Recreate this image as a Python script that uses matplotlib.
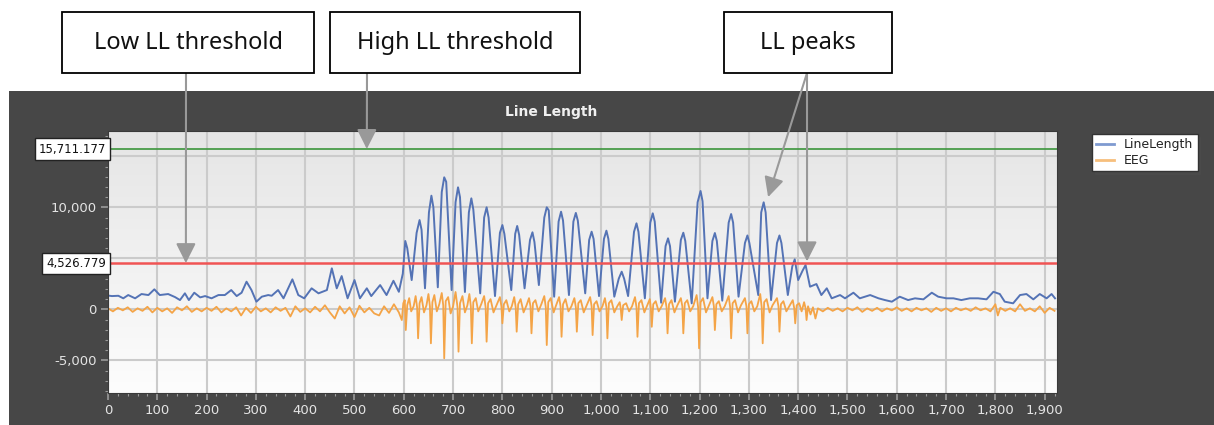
import numpy as np
import matplotlib
matplotlib.use("Agg")
import matplotlib.pyplot as plt
from matplotlib.colors import LinearSegmentedColormap
from matplotlib.patches import Rectangle
from matplotlib.lines import Line2D
from matplotlib.ticker import FuncFormatter, MultipleLocator

# line length (quiet start, burst, quiet end)
ll_x = [0, 8, 21, 31, 41, 55, 68, 82, 94, 105, 122, 136, 146, 156, 164, 175, 187, 197, 210, 224,
        237, 250, 261, 271, 281, 291, 301, 312, 325, 332, 345, 356, 374, 386, 398, 413, 427, 444,
        454, 464, 474, 486, 500, 511, 525, 534, 552, 565, 579, 590,
        598, 603, 607, 616, 626, 632, 636, 643, 651, 656, 660, 669, 677, 682, 686, 697, 705, 710,
        714, 724, 732, 737, 741, 755, 763, 768, 772, 785, 795, 800, 804, 818, 826, 830, 834, 845,
        856, 861, 865, 874, 885, 890, 894, 905, 914, 919, 923, 935, 944, 949, 953, 968, 976, 981,
        985, 996, 1006, 1011, 1015, 1027, 1036, 1042, 1047, 1055, 1067, 1072, 1076, 1089, 1100,
        1105, 1109, 1122, 1131, 1136, 1140, 1150, 1162, 1167, 1171, 1184, 1196, 1202, 1206, 1216,
        1226, 1231, 1235, 1246, 1259, 1264, 1268, 1279, 1292, 1297, 1301, 1319, 1325, 1330, 1334,
        1345, 1357, 1362, 1366, 1379, 1388, 1393, 1400, 1409, 1415, 1424, 1437, 1447,
        1458, 1468, 1485, 1495, 1512, 1525, 1546, 1563, 1576, 1590, 1606, 1623, 1637, 1654, 1671,
        1684, 1701, 1715, 1731, 1748, 1765, 1782, 1796, 1809, 1819, 1836, 1850, 1863, 1877, 1890,
        1904, 1914, 1921]
ll_y = [1350, 1300, 1330, 1080, 1400, 1080, 1500, 1400, 1960, 1400, 1500, 1200, 910, 1570, 910,
        1630, 1170, 1300, 1080, 1400, 1400, 1890, 1300, 1630, 2710, 1890, 750, 1240, 1400, 1330,
        1890, 1080, 2940, 1400, 1080, 2060, 1570, 1890, 4020, 2060, 3260, 1080, 2870, 1080, 2060,
        1300, 2380, 1400, 2800, 1720,
        3500, 6700, 6000, 2870, 7500, 8750, 7800, 2060, 9500, 11140, 10000, 2160, 11500, 12940,
        12500, 1890, 10500, 11960, 11000, 1700, 9500, 10880, 9800, 1570, 9000, 10000, 9000, 1300,
        7500, 8260, 7400, 1890, 7400, 8170, 7300, 2060, 6800, 7550, 6600, 2380, 9000, 10000, 9700,
        1240, 8600, 9570, 8700, 1400, 8600, 9450, 8700, 1570, 6800, 7610, 6900, 1300, 6900, 7710,
        6900, 1240, 3000, 3690, 3000, 1300, 7600, 8430, 7600, 1080, 8500, 9410, 8600, 650, 6200,
        6960, 6200, 750, 6800, 7510, 6700, 590, 10500, 11600, 10600, 1080, 6700, 7480, 6700, 850,
        8500, 9340, 8500, 1240, 6500, 7240, 6500, 1400, 9500, 10490, 9500, 910, 6500, 7240, 6500,
        1400, 4200, 4900, 2870, 3800, 4340, 2220, 2480, 1400,
        2060, 1080, 1400, 1080, 1630, 1080, 1400, 1080, 910, 750, 1240, 910, 1080, 980, 1630,
        1240, 1080, 1080, 910, 1080, 1080, 980, 1720, 1500, 750, 590, 1400, 1500, 980, 1500,
        1080, 1500, 1080]

# EEG
eeg_x = list(range(0, 600, 10)) + [
    596, 599, 602, 604, 607, 611, 615, 620, 624, 627, 629, 632, 636, 641, 646, 650, 653, 655, 658,
    662, 667, 672, 677, 680, 682, 685, 690, 695, 700, 705, 709, 711, 714, 719, 724, 729, 733, 736,
    738, 741, 746, 751, 757, 763, 766, 768, 771, 776, 782, 788, 795, 798, 800, 803, 808, 814, 819,
    824, 827, 829, 832, 837, 843, 849, 854, 857, 859, 862, 867, 873, 879, 885, 888, 890, 893, 898,
    904, 909, 915, 918, 920, 923, 928, 934, 940, 946, 949, 951, 954, 959, 965, 971, 978, 981, 983,
    986, 991, 997, 1003, 1008, 1011, 1013, 1016, 1021, 1027, 1033, 1038, 1040, 1042, 1045, 1051,
    1057, 1063, 1069, 1072, 1074, 1077, 1082, 1088, 1094, 1099, 1101, 1103, 1106, 1111, 1117, 1123,
    1130, 1133, 1135, 1138, 1143, 1149, 1155, 1162, 1165, 1167, 1170, 1175, 1181, 1187, 1194, 1197,
    1199, 1202, 1207, 1213, 1219, 1226, 1229, 1231, 1234, 1239, 1245, 1251, 1259, 1262, 1264, 1267,
    1272, 1278, 1284, 1292, 1295, 1297, 1300, 1305, 1311, 1317, 1323, 1326, 1328, 1331, 1336, 1342,
    1348, 1357, 1360, 1362, 1365, 1370, 1376, 1382, 1389, 1392, 1394, 1397, 1402, 1407, 1412, 1415,
    1417, 1420, 1425, 1430, 1435, 1440] + [
    1450, 1460, 1470, 1480, 1490, 1500, 1510, 1520, 1530, 1540, 1550, 1560, 1570, 1580, 1590, 1600,
    1610, 1620, 1630, 1640, 1650, 1660, 1670, 1680, 1690, 1700, 1710, 1720, 1730, 1740, 1750, 1760,
    1770, 1780, 1790, 1800, 1805, 1810, 1820, 1830, 1840, 1850, 1860, 1870, 1880, 1890, 1900, 1910,
    1920]
eeg_y = [
    100, -200, 150, -100, 200, -250, 100, -150, 250, -300, 150, -200, 100, -350, 200, -100, 300,
    -250, 100, -200, 150, -150, 250, -300, 100, -200, 200, -600, 150, -350, 250, -200, 100, -300,
    200, -150, 150, -700, 300, -250, 100, -300, 250, -200, 400, -300, -900, 300, -400, 200, -750,
    350, -300, 150, -400, -600, 300, -350, 500, -300,
    -1050, 600, 900, -2030, 400, 1100, -200, 300, 1300, 200, -2840, 600, 1200, -300, 400, 1500, 300,
    -3330, 700, 1400, -200, 500, 1600, 400, -4800, 800, 1200, -400, 300, 1700, 200, -4150, 600,
    1300, -300, 400, 1500, 300, -3330, 700, 1100, -200, 500, 1300, 200, -3170, 600, 1000, -300,
    400, 1200, 300, -1370, 500, 900, -200, 300, 1200, 200, -2190, 500, 1000, -300, 400, 1100, 300,
    -2350, 600, 900, -200, 500, 1300, 200, -3500, 700, 1100, -300, 400, 1200, 300, -2690, 500,
    1000, -200, 300, 1100, 200, -2190, 600, 900, -300, 400, 1200, 300, -2520, 500, 800, -200, 300,
    1100, 200, -2840, 600, 900, -300, 300, 700, 100, -1050, 400, 600, -200, 300, 1200, 200, -2690,
    600, 900, -300, 400, 1000, 200, -1710, 500, 800, -200, 300, 1100, 200, -2350, 500, 900, -300,
    400, 1100, 300, -2350, 600, 900, -200, 300, 1400, 200, -3820, 700, 1100, -300, 400, 1200, 300,
    -2030, 500, 800, -200, 300, 1300, 200, -2840, 600, 900, -300, 400, 1100, 300, -2350, 500, 800,
    -200, 300, 1500, 200, -3330, 700, 1000, -300, 400, 1100, 300, -2190, 500, 800, -200, 300, 900,
    100, -1370, 400, 600, -200, 700, 100, -1050, 300, -500, 200, -900, 100,
    -200, 150, -150, 100, -200, 150, -100, 200, -250, 100, -150, 150, -200, 100, -100, 200, -150,
    100, -200, 150, -100, 100, -250, 150, -150, 100, -200, 150, -100, 100, -150, 200, -100, 100,
    -200, 500, -600, 150, -150, 100, -200, 500, -150, 100, -200, 300, -350, 150, -150]

high_thr = 15711.177
low_thr = 4526.779
x_ticks = list(range(0, 2000, 100))
y_ticks = [-5000, 0, 5000, 10000, 15000]
y_hidden = (5000, 15000)   # these labels sit under the threshold boxes

W, H = 1214, 425
def fx(px):
    return px / W
def fy(py):
    return 1 - py / H

fig = plt.figure(figsize=(W / 100, H / 100), dpi=100)
fig.patch.set_facecolor("white")
fig.add_artist(Rectangle((fx(9), 0), 1 - fx(9), fy(91), transform=fig.transFigure,
                         facecolor="#474747", edgecolor="none", zorder=-5))

ax = fig.add_axes([fx(108), fy(393), fx(1057) - fx(108), fy(131) - fy(393)])
grad = LinearSegmentedColormap.from_list("bg", ["#e5e5e5", "#fdfdfd"])
ax.imshow(np.linspace(0, 1, 256).reshape(-1, 1), extent=(0, 1, 0, 1), transform=ax.transAxes,
          cmap=grad, aspect="auto", zorder=0)

ax.plot(ll_x, ll_y, color="#5473b5", lw=1.4, zorder=2, label="LineLength")
ax.plot(eeg_x, eeg_y, color="#f4a447", lw=1.3, zorder=2.1, label="EEG")
ax.axhline(high_thr, color="#3b953b", lw=1.2, zorder=3)
ax.axhline(low_thr, color="#f05454", lw=1.8, zorder=3)

ax.set_xlim(0, 1925)
ax.set_ylim(-8200, 17480)
ax.set_xticks(x_ticks)
ax.set_yticks(y_ticks)
ax.xaxis.set_minor_locator(MultipleLocator(20))
ax.yaxis.set_minor_locator(MultipleLocator(1000))
ax.xaxis.set_major_formatter(FuncFormatter(lambda v, p: f"{v:,.0f}"))
ax.yaxis.set_major_formatter(FuncFormatter(lambda v, p: "" if v in y_hidden else f"{v:,.0f}"))
ax.tick_params(which="both", colors="#9a9a9a", labelcolor="#e4e4e4", labelsize=9.5)
ax.tick_params(which="major", length=5, width=1.2, pad=3)
ax.tick_params(which="minor", length=2.5, width=0.8)
ax.grid(True, which="major", color="#cbcbcb", lw=1.5)
for s in ax.spines.values():
    s.set_color("#3a3a3a")

# threshold value boxes on the y axis
for v in (high_thr, low_thr):
    ax.text(-0.002, v, f"{v:,.3f}", transform=ax.get_yaxis_transform(), ha="right", va="center",
            fontsize=8.5, color="#111111", zorder=10,
            bbox=dict(boxstyle="square,pad=0.35", fc="white", ec="#222222", lw=1))

fig.text(fx(551), fy(112), "Line Length", ha="center", va="center", fontsize=10,
         fontweight="bold", color="#f0f0f0")

handles = [Line2D([], [], color="#7f9ad0", lw=2), Line2D([], [], color="#f7bf7c", lw=2)]
leg = fig.legend(handles, ["LineLength", "EEG"], loc="upper left",
                 bbox_to_anchor=(fx(1092), fy(134)), fontsize=9, frameon=True, fancybox=False,
                 shadow=True, edgecolor="#333333", handlelength=1.4, borderpad=0.35,
                 labelspacing=0.2, borderaxespad=0)
for t in leg.get_texts():
    t.set_color("#222222")

# callout boxes above the chart
boxes = [(62, 314, "Low LL threshold"), (330, 580, "High LL threshold"), (724, 892, "LL peaks")]
for x0, x1, label in boxes:
    fig.add_artist(Rectangle((fx(x0), fy(73)), fx(x1) - fx(x0), fy(12) - fy(73),
                             transform=fig.transFigure, facecolor="white", edgecolor="black",
                             lw=1.3, zorder=5))
    fig.text(fx((x0 + x1) / 2), fy(43), label, ha="center", va="center", fontsize=17,
             family="Noto Sans", color="#111111", zorder=6)

arrows = [((186, 73), (158, low_thr)), ((367, 73), (525, high_thr)),
          ((807, 73), (1339, 11000)), ((807, 73), (1418, 4700))]
for (bx, by), tip in arrows:
    ax.annotate("", xy=tip, xycoords="data", xytext=(bx, H - by), textcoords="figure pixels",
                annotation_clip=False,
                arrowprops=dict(arrowstyle="-|>,head_length=0.8,head_width=0.4", color="#999999",
                                lw=1.5, shrinkA=0, shrinkB=0, mutation_scale=15), zorder=8)

fig.savefig("out.png", dpi=100)
